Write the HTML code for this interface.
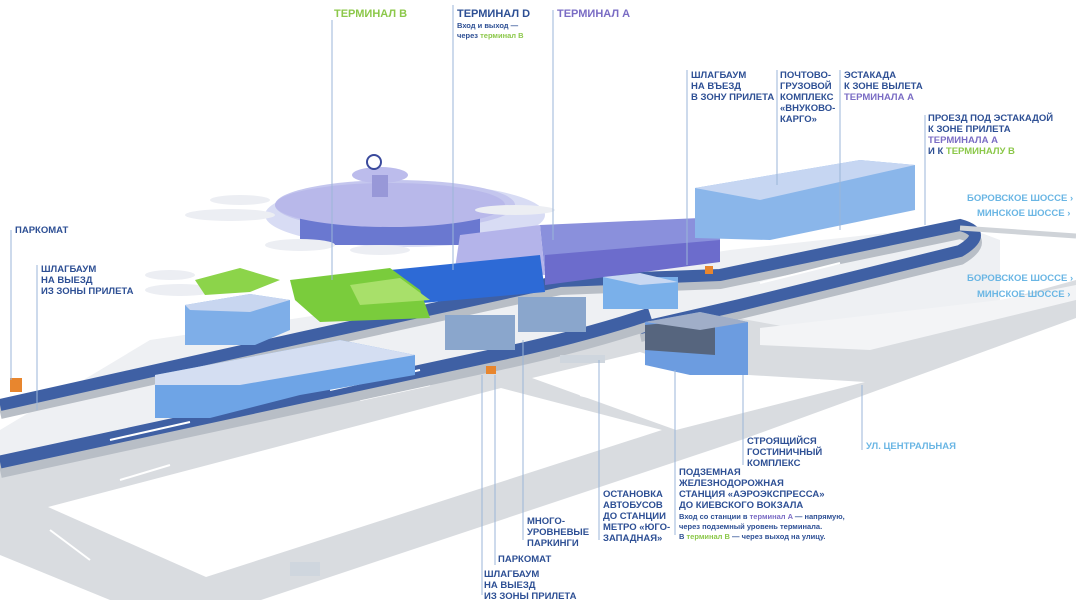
<!DOCTYPE html>
<html><head><meta charset="utf-8"><style>
body{margin:0;width:1076px;height:600px;overflow:hidden;background:#fff}
svg{display:block}
text{font-family:"Liberation Sans",sans-serif;font-weight:bold;font-size:9.5px;fill:#2d4f94}
.p{fill:#7a6cc4}.g{fill:#8cc84a}.l{fill:#6ab6e4}
.s{font-size:7.5px}
line.ld{stroke:#9bb6d8;stroke-width:1}
</style></head><body>
<svg width="1076" height="600" viewBox="0 0 1076 600">
<!-- light plane under complex -->
<polygon points="0,430 150,340 420,300 600,270 730,250 960,225 1000,240 1000,300 860,345 700,330 0,480" fill="#eef0f3"/>
<!-- gray ground roads -->
<polygon points="0,470 500,360 600,335 720,315 860,340 1076,280 1076,600 0,600" fill="#d9dce0"/>
<!-- white lots -->
<polygon points="48,507 501,388 662,430 206,577" fill="#fff"/>
<polygon points="532,378 640,352 700,372 865,382 676,430" fill="#fff"/>
<polygon points="741,440 1076,318 1076,600 261,600" fill="#fff"/>
<polygon points="0,555 0,600 110,600" fill="#fff"/>
<polygon points="760,328 1000,300 1076,285 1076,300 870,350 760,345" fill="#f3f4f6"/>
<!-- road arrows -->
<g stroke="#fff" stroke-width="2">
<line x1="50" y1="530" x2="90" y2="560"/><line x1="580" y1="395" x2="620" y2="405"/>
<line x1="770" y1="395" x2="820" y2="380"/><line x1="120" y1="480" x2="170" y2="465"/>
<line x1="360" y1="400" x2="430" y2="385"/>
</g>
<!-- upper elevated loop -->
<path d="M0,412 L300,345 L560,288 L720,282 L960,232 Q990,240 960,258 L830,290 L740,312 L640,335" fill="none" stroke="#b8bec6" stroke-width="14"/>
<path d="M0,405 L300,338 L560,281 L720,275 L960,225 Q990,233 960,251 L830,283 L740,305 L640,328" fill="none" stroke="#3f60a4" stroke-width="12"/>
<line x1="960" y1="228" x2="1076" y2="236" stroke="#cfd3d8" stroke-width="5"/>
<!-- lower elevated -->
<path d="M0,470 L500,362 Q580,345 650,322" fill="none" stroke="#b8bec6" stroke-width="16"/>
<path d="M0,462 L500,354 Q580,337 650,314" fill="none" stroke="#3f60a4" stroke-width="13"/>
<line x1="110" y1="440" x2="190" y2="422" stroke="#fff" stroke-width="2"/>
<line x1="330" y1="390" x2="420" y2="370" stroke="#fff" stroke-width="2"/>
<line x1="760" y1="283" x2="840" y2="263" stroke="#fff" stroke-width="2"/>
<!-- round terminal with planes -->
<ellipse cx="405" cy="215" rx="140" ry="32" fill="#d8dcf4"/>
<ellipse cx="395" cy="205" rx="120" ry="25" fill="#c4c6ee"/>
<rect x="300" y="205" width="180" height="40" fill="#6a78d0"/>
<ellipse cx="390" cy="205" rx="115" ry="22" fill="#b8b8ea"/>
<ellipse cx="380" cy="175" rx="28" ry="8" fill="#bcbcec"/>
<rect x="372" y="175" width="16" height="22" fill="#9898d8"/>
<circle cx="374" cy="162" r="7" fill="#fff" stroke="#3a4a9c" stroke-width="2"/>
<g fill="#eceef3">
<ellipse cx="230" cy="215" rx="45" ry="6"/><ellipse cx="240" cy="200" rx="30" ry="5"/>
<ellipse cx="300" cy="245" rx="35" ry="6"/><ellipse cx="380" cy="250" rx="30" ry="5"/>
<ellipse cx="515" cy="210" rx="40" ry="5"/><ellipse cx="180" cy="290" rx="35" ry="6"/><ellipse cx="170" cy="275" rx="25" ry="5"/>
</g>
<!-- terminal A -->
<polygon points="540,225 700,218 720,225 720,250 545,275" fill="#8a90dc"/>
<polygon points="460,235 540,225 545,275 455,268" fill="#b4b4ea"/>
<polygon points="545,255 720,240 720,262 545,285" fill="#6c6ccc"/>
<!-- terminal D -->
<polygon points="390,270 540,255 545,292 400,305" fill="#2d6ad6"/>
<!-- terminal B green -->
<polygon points="195,280 240,268 280,280 250,292 205,295" fill="#8cd44a"/>
<polygon points="290,280 390,268 420,290 430,318 320,322 295,300" fill="#7acc3c"/>
<polygon points="350,285 400,278 430,300 360,305" fill="#a8e06a"/>
<!-- small buildings -->
<polygon points="185,305 250,294 290,300 290,330 255,345 185,345" fill="#7eaee8"/>
<polygon points="185,305 250,294 290,300 250,312 190,310" fill="#c8d6f0"/>
<polygon points="155,375 340,340 415,355 415,375 300,395 210,418 155,418" fill="#6ea4e6"/>
<polygon points="155,375 340,340 415,355 240,385 155,385" fill="#d4def2"/>
<rect x="445" y="315" width="70" height="35" fill="#8aa6cc"/>
<rect x="518" y="297" width="68" height="35" fill="#8aa6cc"/>
<rect x="603" y="277" width="75" height="32" fill="#7ab0ea"/>
<polygon points="603,277 640,273 678,282 640,285" fill="#c8d8f2"/>
<!-- hotel -->
<polygon points="645,322 700,312 748,322 748,375 690,375 645,365" fill="#6c9ce0"/>
<polygon points="645,325 715,318 715,355 645,350" fill="#56657e"/>
<polygon points="645,322 700,312 748,322 700,330" fill="#a0aec8"/>
<!-- cargo -->
<polygon points="695,188 860,160 915,165 915,210 770,240 695,238" fill="#8ab6ea"/>
<polygon points="695,188 860,160 915,165 760,200" fill="#c6d6f2"/>
<rect x="10" y="378" width="12" height="14" fill="#e8862e"/>
<rect x="705" y="266" width="8" height="8" fill="#e8862e"/>
<rect x="486" y="366" width="10" height="8" fill="#e8862e"/>
<rect x="290" y="562" width="30" height="14" fill="#cfd6de"/>
<rect x="560" y="355" width="45" height="8" fill="#cfd6de"/>
<!-- leader lines -->
<g>
<line class="ld" x1="332" y1="20" x2="332" y2="280"/>
<line class="ld" x1="453" y1="5" x2="453" y2="270"/>
<line class="ld" x1="553" y1="10" x2="553" y2="240"/>
<line class="ld" x1="687" y1="70" x2="687" y2="265"/>
<line class="ld" x1="777" y1="70" x2="777" y2="185"/>
<line class="ld" x1="840" y1="70" x2="840" y2="230"/>
<line class="ld" x1="925" y1="115" x2="925" y2="225"/>
<line class="ld" x1="11" y1="230" x2="11" y2="380"/>
<line class="ld" x1="37" y1="265" x2="37" y2="410"/>
<line class="ld" x1="482" y1="375" x2="482" y2="595"/>
<line class="ld" x1="495" y1="375" x2="495" y2="565"/>
<line class="ld" x1="523" y1="340" x2="523" y2="540"/>
<line class="ld" x1="599" y1="360" x2="599" y2="540"/>
<line class="ld" x1="675" y1="370" x2="675" y2="535"/>
<line class="ld" x1="743" y1="375" x2="743" y2="465"/>
<line class="ld" x1="862" y1="385" x2="862" y2="450"/>
</g>
<!-- labels -->
<text x="334" y="17" class="g" style="font-size:11px">ТЕРМИНАЛ B</text>
<text x="457" y="17" style="font-size:11px">ТЕРМИНАЛ D</text>
<text x="457" y="28" class="s">Вход и выход —</text>
<text x="457" y="38" class="s">через <tspan class="g">терминал B</tspan></text>
<text x="557" y="17" class="p" style="font-size:11px">ТЕРМИНАЛ A</text>
<text x="691" y="78">ШЛАГБАУМ</text><text x="691" y="89">НА ВЪЕЗД</text><text x="691" y="100">В ЗОНУ ПРИЛЕТА</text>
<text x="780" y="78">ПОЧТОВО-</text><text x="780" y="89">ГРУЗОВОЙ</text><text x="780" y="100">КОМПЛЕКС</text><text x="780" y="111">«ВНУКОВО-</text><text x="780" y="122">КАРГО»</text>
<text x="844" y="78">ЭСТАКАДА</text><text x="844" y="89">К ЗОНЕ ВЫЛЕТА</text><text x="844" y="100" class="p">ТЕРМИНАЛА A</text>
<text x="928" y="121">ПРОЕЗД ПОД ЭСТАКАДОЙ</text><text x="928" y="132">К ЗОНЕ ПРИЛЕТА</text><text x="928" y="143" class="p">ТЕРМИНАЛА A</text><text x="928" y="154">И К <tspan class="g">ТЕРМИНАЛУ B</tspan></text>
<text x="967" y="201" class="l">БОРОВСКОЕ ШОССЕ ›</text>
<text x="977" y="216" class="l">МИНСКОЕ ШОССЕ ›</text>
<text x="967" y="281" class="l">БОРОВСКОЕ ШОССЕ ›</text>
<text x="977" y="297" class="l">МИНСКОЕ ШОССЕ ›</text>
<text x="866" y="449" class="l">УЛ. ЦЕНТРАЛЬНАЯ</text>
<text x="15" y="233">ПАРКОМАТ</text>
<text x="41" y="272">ШЛАГБАУМ</text><text x="41" y="283">НА ВЫЕЗД</text><text x="41" y="294">ИЗ ЗОНЫ ПРИЛЕТА</text>
<text x="747" y="444">СТРОЯЩИЙСЯ</text><text x="747" y="455">ГОСТИНИЧНЫЙ</text><text x="747" y="466">КОМПЛЕКС</text>
<text x="679" y="475">ПОДЗЕМНАЯ</text><text x="679" y="486">ЖЕЛЕЗНОДОРОЖНАЯ</text><text x="679" y="497">СТАНЦИЯ «АЭРОЭКСПРЕССА»</text><text x="679" y="508">ДО КИЕВСКОГО ВОКЗАЛА</text>
<text x="679" y="519" class="s">Вход со станции в <tspan class="p">терминал A</tspan> — напрямую,</text>
<text x="679" y="529" class="s">через подземный уровень терминала.</text>
<text x="679" y="539" class="s">В <tspan class="g">терминал B</tspan> — через выход на улицу.</text>
<text x="603" y="497">ОСТАНОВКА</text><text x="603" y="508">АВТОБУСОВ</text><text x="603" y="519">ДО СТАНЦИИ</text><text x="603" y="530">МЕТРО «ЮГО-</text><text x="603" y="541">ЗАПАДНАЯ»</text>
<text x="527" y="524">МНОГО-</text><text x="527" y="535">УРОВНЕВЫЕ</text><text x="527" y="546">ПАРКИНГИ</text>
<text x="498" y="562">ПАРКОМАТ</text>
<text x="484" y="577">ШЛАГБАУМ</text><text x="484" y="588">НА ВЫЕЗД</text><text x="484" y="599">ИЗ ЗОНЫ ПРИЛЕТА</text>
</svg>
</body></html>
